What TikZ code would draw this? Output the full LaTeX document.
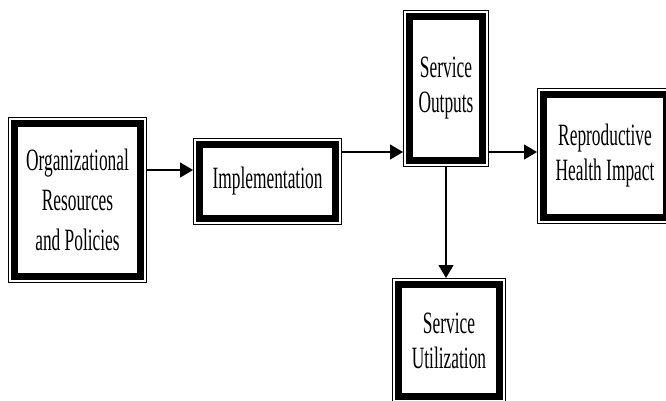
\documentclass[tikz,border=0pt]{standalone}
\usepackage{fontspec}
\newfontfamily\boxfont[FakeStretch=0.56]{Liberation Serif}
\usetikzlibrary{arrows.meta}
\begin{document}
\begin{tikzpicture}
            [
                x = 1pt, y = -1pt,
                block/.style = {draw, line width=7pt, inner sep=0pt, align=center,
                    font=\boxfont\fontsize{31pt}{35pt}\selectfont},
                frame/.style = {draw, line width=1pt},
                arrow/.style = {draw, line width=1.3pt, -{Triangle[length=13pt, width=15pt]}}
            ]
            \clip (0, 0) rectangle (666, 400);
            \node[block, minimum width=126pt, minimum height=153pt,
                font=\boxfont\fontsize{31pt}{40pt}\selectfont]
                (org) at (77.5, 200) {Organizational\\Resources\\and Policies};
            \node[block, minimum width=136pt, minimum height=74pt] (impl) at (267.5, 181.5) {Implementation};
            \node[block, minimum width=73pt, minimum height=144pt] (outp) at (446, 88.5) {Service\\Outputs};
            \node[block, minimum width=123pt, minimum height=123pt] (rep) at (605, 156) {Reproductive\\Health Impact};
            \node[block, minimum width=101pt, minimum height=112pt] (util) at (449, 340.5) {Service\\Utilization};
            % thin outer frames
            \foreach \n in {org, impl, outp, rep, util}
                \draw[frame] ([xshift=-2.5pt, yshift=-2.5pt]\n.south west) rectangle ([xshift=2.5pt, yshift=2.5pt]\n.north east);
            \draw[arrow, shorten <=3pt, shorten >=3pt] ([yshift=30pt]org.east) -- ([yshift=30pt]org.east -| impl.west);
            \draw[arrow, shorten <=3pt, shorten >=3pt] ([yshift=29.5pt]impl.east) -- ([yshift=29.5pt]impl.east -| outp.west);
            \draw[arrow, shorten <=3pt, shorten >=3pt] ([yshift=-63.5pt]outp.east) -- ([yshift=-63.5pt]outp.east -| rep.west);
            \draw[arrow, shorten <=3pt, shorten >=3pt] (outp.south) -- (outp.south |- util.north);
        \end{tikzpicture}
\end{document}
